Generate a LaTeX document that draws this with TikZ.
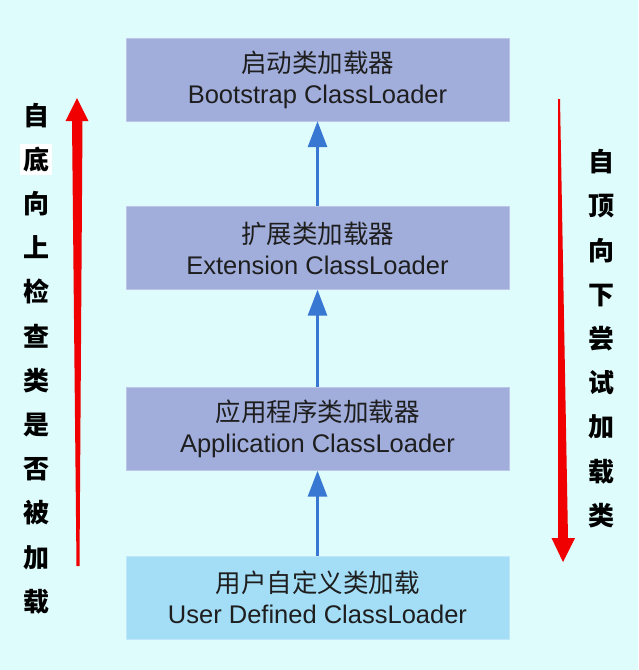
\documentclass[tikz,border=0pt]{standalone}
\usepackage{fontspec}
\setmainfont{Liberation Sans}
\newfontfamily\cjk{Noto Sans CJK SC}
\usepackage{xcolor}
\usetikzlibrary{arrows.meta, positioning}

\definecolor{bgcyan}{RGB}{222,252,252}
\definecolor{loaderblue}{RGB}{161,174,220}
\definecolor{userblue}{RGB}{163,221,246}
\definecolor{arrowblue}{RGB}{56,120,210}
\definecolor{arrowred}{RGB}{240,0,0}
\definecolor{textgray}{RGB}{30,30,30}

\begin{document}
\begin{tikzpicture}[
    x=1pt, y=-1pt,
    loader/.style={rectangle, draw=loaderblue!70!white, fill=loaderblue, minimum width=383pt, minimum height=83pt, inner sep=0pt, align=center, text=textgray, font=\fontsize{25.5pt}{31pt}\selectfont},
    userloader/.style={loader, draw=userblue!70!white, fill=userblue},
    arrow/.style={-{Triangle[length=26pt, width=19pt]}, line width=3pt, arrowblue},
    vtext/.style={align=center, inner sep=0pt, text=black, font=\cjk\bfseries\fontsize{26pt}{44.2pt}\selectfont}
]
\useasboundingbox[fill=bgcyan] (0,0) rectangle (638,670);

% Loaders
\node[loader] (boot) at (317.5,79.5) {{\cjk 启动类加载器}\\Bootstrap ClassLoader};
\node[loader] (ext) at (317.5,248) {{\cjk 扩展类加载器}\\Extension ClassLoader};
\node[loader] (app) at (317.5,429) {{\cjk 应用程序类加载器}\\Application ClassLoader};
\node[userloader] (user) at (317.5,597.5) {{\cjk 用户自定义类加载}\\User Defined ClassLoader};

% Arrows between loaders
\draw[arrow] (user) -- (app);
\draw[arrow] (app) -- (ext);
\draw[arrow] (ext) -- (boot);

% Side labels
\node[vtext] (upcheck) at (36,358.5) {自\\{\fboxsep=3pt\colorbox{white}{底}}\\向\\上\\检\\查\\类\\是\\否\\被\\加\\载};
\node[vtext] (downtry) at (601,338.5) {自\\顶\\向\\下\\尝\\试\\加\\载\\类};

% Red arrows
\fill[arrowred] (76.5,566) -- (72,121) -- (65.5,121) -- (77,98) -- (88.5,121) -- (82.5,121) -- (79.5,566) -- cycle;
\fill[arrowred] (558,99) -- (560,99) -- (568,538) -- (575,538) -- (563,562) -- (551.5,538) -- (558,538) -- cycle;

\end{tikzpicture}
\end{document}
